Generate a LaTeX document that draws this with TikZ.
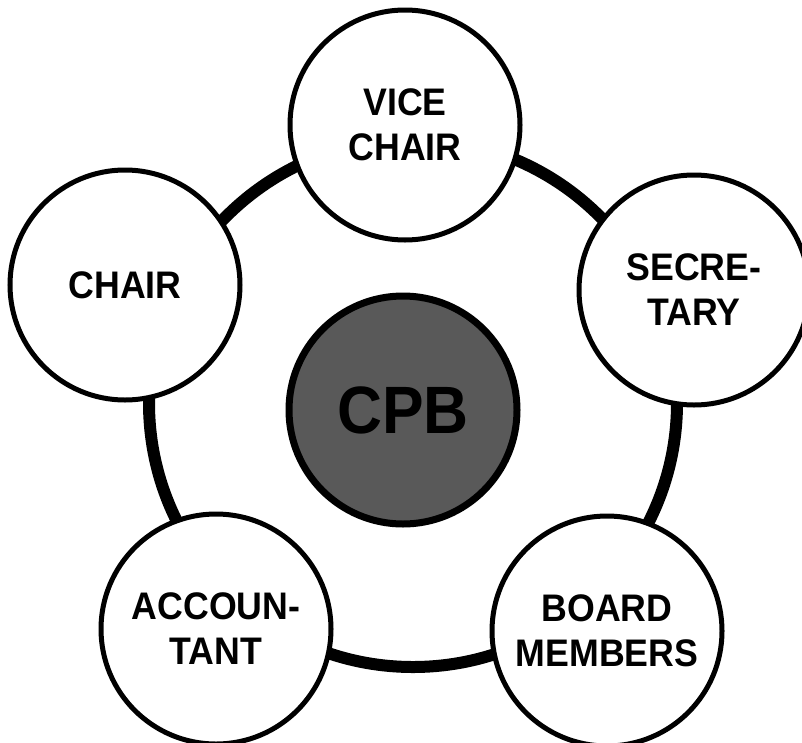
\documentclass[tikz,border=0pt]{standalone}
\usepackage{fontspec}
\newfontfamily\labelfont[FakeStretch=0.93]{Liberation Sans}

\begin{document}
\begin{tikzpicture}[
    x = 1pt,
    y = -1pt,
    ]

    \tikzstyle{officer}=[
    circle,
    draw = black,
    line width = 5pt,
    fill = white,
    minimum size = 230pt,
    inner sep = 0pt,
    align = center,
    font = \labelfont\bfseries\fontsize{38.4}{45}\selectfont,
    ]
    \tikzstyle{hub}=[
    officer,
    line width = 7pt,
    fill = black!65,
    minimum size = 228pt,
    font = \labelfont\bfseries\fontsize{67}{70}\selectfont,
    ]

    \useasboundingbox (0,0) rectangle (802,742);

    \coordinate (ring) at (413,403);
    \draw[line width=12pt] (ring) circle[radius=264];

    \node[hub] (cpb) at (403,410) {CPB};
    \node[officer] (vice) at (405,125) {VICE\\CHAIR};
    \node[officer] (sec) at (694,290) {SECRE-\\TARY};
    \node[officer] (board) at (607,631) {BOARD\\MEMBERS};
    \node[officer] (acc) at (216,629) {ACCOUN-\\TANT};
    \node[officer] (chair) at (125,285) {CHAIR};
\end{tikzpicture}
\end{document}
